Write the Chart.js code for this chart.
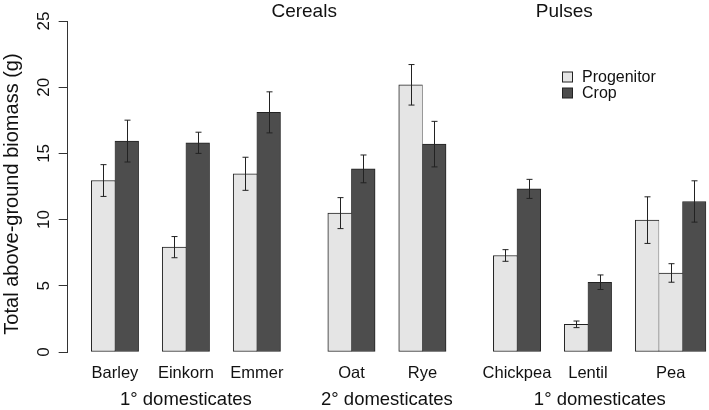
<!DOCTYPE html>
<html>
<head>
<meta charset="utf-8">
<script src="https://cdn.jsdelivr.net/npm/chart.js@4.4.0/dist/chart.umd.min.js"></script>
<style>
  html, body { margin: 0; padding: 0; background: #fff; }
  #wrap { width: 709px; height: 410px; }
</style>
</head>
<body>
<div id="wrap"><canvas id="biomassChart" width="709" height="410"></canvas></div>
<script>
// data (g)
const crops = ['Barley', 'Einkorn', 'Emmer', 'Oat', 'Rye', 'Chickpea', 'Lentil', 'Pea'];
const progenitorMean = [12.95, 7.92, 13.46, 10.49, 20.18, 7.29, 2.09, 9.96];
const progenitorErr = [1.2, 0.8, 1.25, 1.17, 1.53, 0.44, 0.25, 1.76];
// pea has a second wild progenitor
const secondProgenitorMean = [null, null, null, null, null, null, null, 5.97];
const secondProgenitorErr = [null, null, null, null, null, null, null, 0.7];
const cropMean = [15.93, 15.8, 18.1, 13.83, 15.7, 12.32, 5.27, 11.37];
const cropErr = [1.58, 0.8, 1.55, 1.05, 1.72, 0.72, 0.55, 1.56];
const yTicks = [0, 5, 10, 15, 20, 25];

const groupLabels = ['1\u00b0 domesticates', '2\u00b0 domesticates', '1\u00b0 domesticates'];
const groupMembers = [[0, 1, 2], [3, 4], [5, 6, 7]];
const sectionTitles = ['Cereals', 'Pulses'];

// layout: empty bar-widths before each crop
const gapBefore = [1, 1, 1, 2, 1, 2, 1, 1];

const FONT = '"Liberation Sans", Arial, sans-serif';
const INK = '#111';
const LIGHT = '#e5e5e5';
const DARK = '#4d4d4d';
const EDGE = '#222';

// work out the slot positions of every bar
const progX = [], secondX = [], cropX = [], groupStart = [], groupEnd = [];
let pos = 0;
crops.forEach((name, i) => {
  pos += gapBefore[i];
  groupStart.push(pos);
  progX.push(pos + 0.5); pos++;
  if (secondProgenitorMean[i] !== null) { secondX.push(pos + 0.5); pos++; } else secondX.push(null);
  cropX.push(pos + 0.5); pos++;
  groupEnd.push(pos);
});
const totalSlots = pos;
const labelCenters = crops.map((c, i) => (groupStart[i] + groupEnd[i]) / 2);

function points(xs, ys) {
  const out = [];
  xs.forEach((x, i) => { if (x !== null && ys[i] !== null) out.push({ x: x, y: ys[i] }); });
  return out;
}
function errs(xs, es) {
  return es.filter((e, i) => xs[i] !== null && e !== null);
}

const errorBars = {
  id: 'errorBars',
  afterDatasetsDraw(chart) {
    const ctx = chart.ctx;
    const y = chart.scales.y;
    ctx.save();
    ctx.strokeStyle = EDGE;
    ctx.lineWidth = 1;
    chart.data.datasets.forEach((ds, d) => {
      const meta = chart.getDatasetMeta(d);
      meta.data.forEach((bar, i) => {
        const m = ds.data[i].y, e = ds.errors[i];
        const top = y.getPixelForValue(m + e);
        const bot = y.getPixelForValue(m - e);
        const x = Math.round(bar.x) + 0.5;
        ctx.beginPath();
        ctx.moveTo(x, top); ctx.lineTo(x, bot);
        ctx.moveTo(x - 3, top); ctx.lineTo(x + 3, top);
        ctx.moveTo(x - 3, bot); ctx.lineTo(x + 3, bot);
        ctx.stroke();
      });
    });
    ctx.restore();
  }
};

const textLayer = {
  id: 'textLayer',
  afterDraw(chart) {
    const ctx = chart.ctx;
    const xs = chart.scales.x, ys = chart.scales.y;
    const area = chart.chartArea;
    ctx.save();
    ctx.fillStyle = INK;
    ctx.textAlign = 'center';
    ctx.textBaseline = 'middle';

    // y tick labels, turned like the axis
    ctx.font = '17px ' + FONT;
    ys.ticks.forEach(t => {
      ctx.save();
      ctx.translate(44, ys.getPixelForValue(t.value));
      ctx.rotate(-Math.PI / 2);
      ctx.fillText(String(t.value), 0, 0);
      ctx.restore();
    });

    // y title
    ctx.font = '20px ' + FONT;
    ctx.save();
    ctx.translate(12, 194);
    ctx.rotate(-Math.PI / 2);
    ctx.fillText('Total above-ground biomass (g)', 0, 0);
    ctx.restore();

    // group labels under the crop names
    ctx.font = '18.5px ' + FONT;
    groupMembers.forEach((members, g) => {
      const a = groupStart[members[0]], b = groupEnd[members[members.length - 1]];
      ctx.fillText(groupLabels[g], xs.getPixelForValue((a + b) / 2), area.bottom + 48);
    });

    // section titles
    ctx.font = '19px ' + FONT;
    const titleAt = [groupStart[3] - 1, groupStart[6]];
    sectionTitles.forEach((t, i) => {
      ctx.fillText(t, xs.getPixelForValue(titleAt[i]), 12);
    });

    // legend
    ctx.font = '16px ' + FONT;
    ctx.textAlign = 'left';
    const legend = [['Progenitor', LIGHT], ['Crop', DARK]];
    legend.forEach((item, i) => {
      const cy = 77 + i * 16;
      ctx.fillStyle = item[1];
      ctx.fillRect(562.5, cy - 5, 10, 10);
      ctx.strokeStyle = EDGE;
      ctx.lineWidth = 1;
      ctx.strokeRect(562.5, cy - 5, 10, 10);
      ctx.fillStyle = INK;
      ctx.fillText(item[0], 582, cy + 1);
    });
    ctx.restore();
  }
};

const barStyle = {
  borderColor: EDGE,
  borderSkipped: false,
  grouped: false,
  barPercentage: 1,
  categoryPercentage: 1
};

new Chart(document.getElementById('biomassChart'), {
  type: 'bar',
  data: {
    datasets: [
      Object.assign({
        label: 'Progenitor',
        data: points(progX, progenitorMean),
        errors: errs(progX, progenitorErr),
        backgroundColor: LIGHT,
        borderWidth: { top: 1, left: 1, bottom: 1, right: 0.5 }
      }, barStyle),
      Object.assign({
        label: 'Progenitor 2',
        data: points(secondX, secondProgenitorMean),
        errors: errs(secondX, secondProgenitorErr),
        backgroundColor: LIGHT,
        borderWidth: { top: 1, left: 0.5, bottom: 1, right: 0.5 }
      }, barStyle),
      Object.assign({
        label: 'Crop',
        data: points(cropX, cropMean),
        errors: errs(cropX, cropErr),
        backgroundColor: DARK,
        borderWidth: { top: 1, left: 0.5, bottom: 1, right: 1 }
      }, barStyle)
    ]
  },
  options: {
    responsive: false,
    animation: false,
    layout: { padding: { left: 0, right: 2.8, top: 21, bottom: 0 } },
    plugins: { legend: { display: false }, tooltip: { enabled: false } },
    scales: {
      x: {
        type: 'linear',
        min: 0,
        max: totalSlots,
        offset: false,
        grid: { display: false, drawTicks: false },
        border: { display: false },
        afterBuildTicks: (axis) => { axis.ticks = labelCenters.map(v => ({ value: v })); },
        afterFit: (axis) => { axis.height = 58; },
        ticks: {
          autoSkip: false,
          maxRotation: 0,
          padding: 12,
          color: INK,
          font: { family: FONT, size: 16.5 },
          callback: (v, i) => crops[i]
        }
      },
      y: {
        min: 0,
        max: 25,
        afterBuildTicks: (axis) => { axis.ticks = yTicks.map(v => ({ value: v })); },
        afterFit: (axis) => { axis.width = 67.65; },
        grid: { drawOnChartArea: false, drawTicks: true, tickLength: 9, color: '#333' },
        border: { display: true, color: '#333', width: 1 },
        ticks: { color: 'rgba(0,0,0,0)', font: { size: 1 } }
      }
    }
  },
  plugins: [errorBars, textLayer]
});
</script>
</body>
</html>
